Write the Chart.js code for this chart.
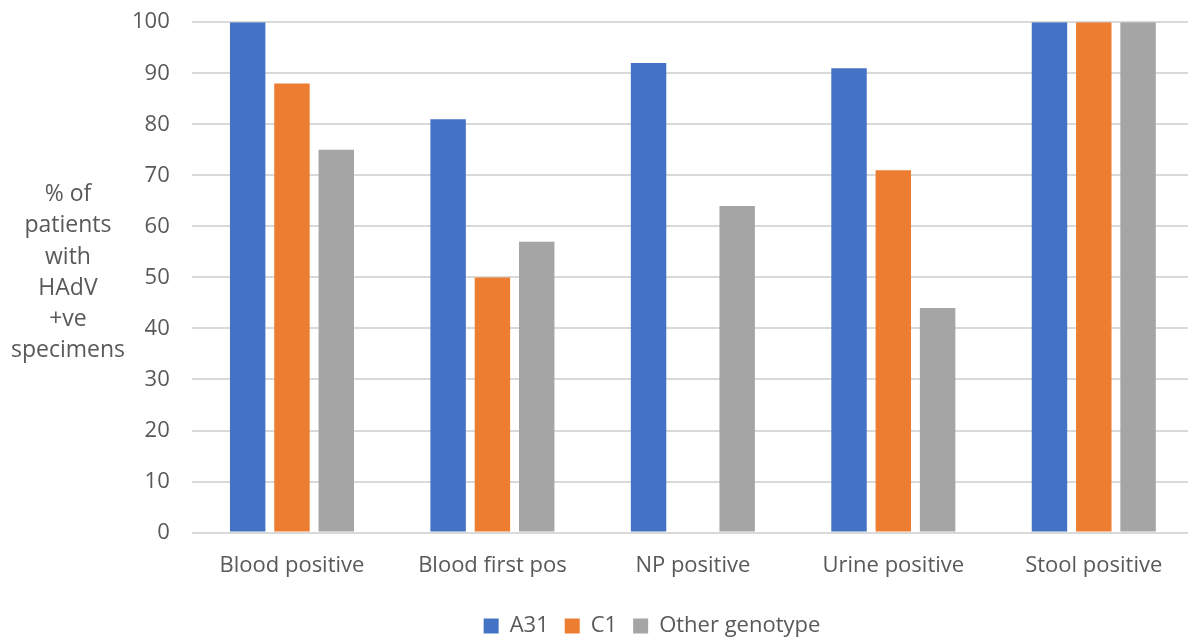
<!DOCTYPE html>
<html>
<head>
<meta charset="utf-8">
<script src="https://cdn.jsdelivr.net/npm/chart.js@4"></script>
<style>
  body { margin: 0; background: #fff; }
  #wrap { position: relative; width: 1188px; height: 637px; overflow: hidden; }
  #myChart { position: absolute; left: 0; top: -13px; }
  #ytitle {
    position: absolute; left: 0; width: 136px; top: 177px;
    text-align: center; font-family: "Open Sans", sans-serif;
    font-size: 23px; line-height: 31.3px; color: #595959;
  }
</style>
</head>
<body>
<div id="wrap">
  <canvas id="myChart" width="1194" height="650"></canvas>
  <div id="ytitle">% of<br>patients<br>with<br>HAdV<br>+ve<br>specimens</div>
</div>
<script>
// categories and series
const categories = ['Blood positive', 'Blood first pos', 'NP positive', 'Urine positive', 'Stool positive'];
const a31 = [100, 81, 92, 91, 100];
const c1 = [88, 50, 0, 71, 100];
const otherGenotype = [75, 57, 64, 44, 100];
const yTicks = [0, 10, 20, 30, 40, 50, 60, 70, 80, 90, 100];

const textColor = '#595959';
const ctx = document.getElementById('myChart');

let barChart = new Chart(ctx, {
  type: 'bar',
  data: {
    labels: categories,
    datasets: [
      { label: 'A31', data: a31, backgroundColor: '#4472c4' },
      { label: 'C1', data: c1, backgroundColor: '#ed7d31' },
      { label: 'Other genotype', data: otherGenotype, backgroundColor: '#a5a5a5' }
    ]
  },
  options: {
    responsive: false,
    animation: false,
    categoryPercentage: 0.663,
    barPercentage: 0.8,
    layout: { padding: { left: 110, right: 0, top: 0, bottom: -10 } },
    plugins: {
      tooltip: { enabled: false },
      legend: {
        position: 'bottom',
        labels: {
          color: textColor,
          font: { family: 'Open Sans', size: 22 },
          boxWidth: 15,
          boxHeight: 15,
          padding: 16
        }
      }
    },
    scales: {
      x: {
        grid: { display: false, drawTicks: false },
        border: { display: false },
        ticks: { color: textColor, font: { family: 'Open Sans', size: 22 }, padding: 20 }
      },
      y: {
        min: 0,
        max: 100,
        afterBuildTicks: axis => { axis.ticks = yTicks.map(v => ({ value: v })); },
        grid: { color: '#d9d9d9', lineWidth: 2, drawTicks: false },
        border: { display: false },
        ticks: { color: textColor, font: { family: 'Open Sans', size: 22 }, padding: 22 }
      }
    }
  }
});
</script>
</body>
</html>
